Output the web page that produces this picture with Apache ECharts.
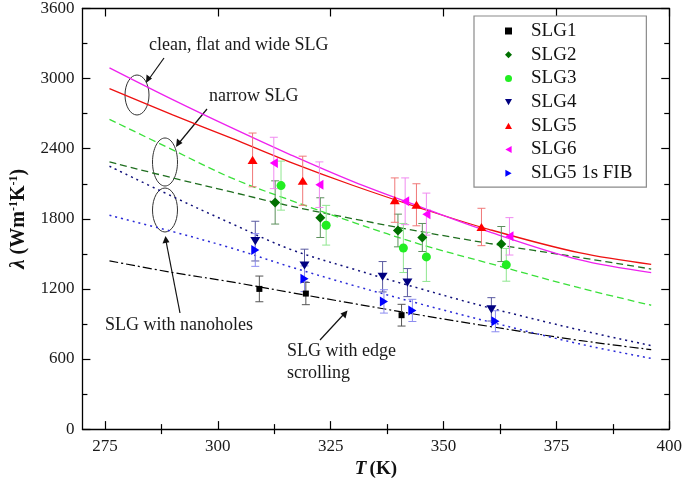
<!DOCTYPE html>
<html>
<head>
<meta charset="utf-8">
<script src="https://cdn.jsdelivr.net/npm/echarts@6/dist/echarts.min.js"></script>
<style>
html,body{margin:0;padding:0;background:#fff;}
#chart{width:685px;height:484px;}
</style>
</head>
<body>
<div id="chart"></div>
<script>
// ---- data ----
const xMajorTicks = [275, 300, 325, 350, 375, 400];
const xMinorTicks = [287.5, 312.5, 337.5, 362.5, 387.5];

const fitT = [276, 290, 303, 316, 330, 345, 360, 380, 396];
const fitSLG1 = [1440, 1340, 1260, 1170, 1075, 975, 880, 760, 680];
const fitSLG2 = [2287, 2150, 2030, 1910, 1800, 1690, 1590, 1470, 1370];
const fitSLG3 = [2651, 2390, 2150, 1960, 1770, 1580, 1420, 1210, 1060];
const fitSLG4 = [2250, 1990, 1760, 1540, 1370, 1200, 1040, 850, 715];
const fitSLG5 = [2914, 2690, 2490, 2285, 2085, 1890, 1710, 1510, 1410];
const fitSLG6 = [3092, 2820, 2580, 2350, 2118, 1900, 1690, 1450, 1340];
const fitFIB  = [1830, 1690, 1550, 1390, 1230, 1070, 920, 730, 605];

const slg1T = [309.2, 319.5, 340.7];
const slg1V = [1200, 1160, 975];
const slg1E = [110, 95, 93];

const slg2T = [312.7, 322.7, 339.9, 345.3, 362.8];
const slg2V = [1940, 1810, 1700, 1640, 1584];
const slg2E = [185, 170, 140, 120, 150];

const slg3T = [314.0, 324.0, 341.1, 346.2, 363.9];
const slg3V = [2084, 1745, 1550, 1474, 1406];
const slg3E = [210, 170, 210, 210, 140];

const slg4T = [308.3, 319.2, 336.5, 342.0, 360.6];
const slg4V = [1609, 1400, 1304, 1254, 1025];
const slg4E = [170, 140, 130, 120, 100];

const slg5T = [307.7, 318.8, 339.2, 344.0, 358.4];
const slg5V = [2304, 2126, 1960, 1920, 1730];
const slg5E = [230, 210, 190, 180, 160];

const slg6T = [312.4, 322.5, 341.5, 346.2, 364.6];
const slg6V = [2278, 2092, 1950, 1840, 1650];
const slg6E = [220, 195, 200, 180, 160];

const fibT = [308.3, 319.2, 336.8, 343.1, 361.5];
const fibV = [1533, 1287, 1093, 1016, 923];
const fibE = [140, 110, 100, 95, 90];

// ---- helpers ----
const FONT = '"Liberation Serif", "Times New Roman", serif';
const TRI_UP = 'path://M5,0L10,9L0,9Z';
const TRI_DOWN = 'path://M0,0L10,0L5,9Z';
const TRI_LEFT = 'path://M9,0L9,10L0,5Z';
const TRI_RIGHT = 'path://M0,0L0,10L9,5Z';
const pairs = (xs, ys) => xs.map((x, i) => [x, ys[i]]);
const errs = (xs, ys, es) => xs.map((x, i) => [x, ys[i] - es[i], ys[i] + es[i]]);

function errRender(color) {
  return function (params, api) {
    const x = api.value(0), lo = api.value(1), hi = api.value(2);
    const a = api.coord([x, hi]);
    const b = api.coord([x, lo]);
    const w = 4;
    const st = { stroke: color, lineWidth: 1 };
    return {
      type: 'group',
      children: [
        { type: 'line', shape: { x1: a[0], y1: a[1], x2: b[0], y2: b[1] }, style: st },
        { type: 'line', shape: { x1: a[0] - w, y1: a[1], x2: a[0] + w, y2: a[1] }, style: st },
        { type: 'line', shape: { x1: b[0] - w, y1: b[1], x2: b[0] + w, y2: b[1] }, style: st }
      ]
    };
  };
}

function fitSeries(name, ys, color, type, width) {
  return {
    name: name, type: 'line', data: pairs(fitT, ys), smooth: 0.35,
    showSymbol: false, symbol: 'none', silent: true, z: 1,
    lineStyle: { color: color, width: width || 1.2, type: type }
  };
}
function errSeries(name, xs, ys, es, color) {
  return {
    name: name, type: 'custom', data: errs(xs, ys, es), renderItem: errRender(color),
    silent: true, z: 2, encode: { x: 0, y: [1, 2] }
  };
}
function ptSeries(name, xs, ys, symbol, size, color) {
  return {
    name: name, type: 'scatter', data: pairs(xs, ys), symbol: symbol, symbolSize: size,
    symbolKeepAspect: true, itemStyle: { color: color, opacity: 1 }, z: 3
  };
}

const series = [
  fitSeries('SLG1 fit', fitSLG1, '#000000', [9, 3, 2, 3], 1.2),
  fitSeries('SLG2 fit', fitSLG2, '#1f6e1f', [7, 4], 1.3),
  fitSeries('SLG3 fit', fitSLG3, '#3ae03a', [7, 4], 1.3),
  fitSeries('SLG4 fit', fitSLG4, '#10107a', [2, 4], 1.5),
  fitSeries('SLG5 fit', fitSLG5, '#ee1111', 'solid', 1.3),
  fitSeries('SLG6 fit', fitSLG6, '#ee22ee', 'solid', 1.3),
  fitSeries('SLG5 1s FIB fit', fitFIB, '#2a2ad8', [2, 4], 1.5),

  errSeries('SLG1 err', slg1T, slg1V, slg1E, '#555555'),
  errSeries('SLG2 err', slg2T, slg2V, slg2E, '#5c8f5c'),
  errSeries('SLG3 err', slg3T, slg3V, slg3E, '#8fe68f'),
  errSeries('SLG4 err', slg4T, slg4V, slg4E, '#5a5aa0'),
  errSeries('SLG5 err', slg5T, slg5V, slg5E, '#f07878'),
  errSeries('SLG6 err', slg6T, slg6V, slg6E, '#f08af0'),
  errSeries('SLG5 1s FIB err', fibT, fibV, fibE, '#8c8cf0'),

  ptSeries('SLG1', slg1T, slg1V, 'rect', 6, '#000000'),
  ptSeries('SLG2', slg2T, slg2V, 'diamond', 10, '#007000'),
  ptSeries('SLG3', slg3T, slg3V, 'circle', 9, '#22ee22'),
  ptSeries('SLG4', slg4T, slg4V, TRI_DOWN, [10, 9], '#000080'),
  ptSeries('SLG5', slg5T, slg5V, TRI_UP, [10, 9], '#ff0000'),
  ptSeries('SLG6', slg6T, slg6V, TRI_LEFT, [9, 10], '#ff00ff'),
  ptSeries('SLG5 1s FIB', fibT, fibV, TRI_RIGHT, [9, 10], '#0000ff')
];

const axisLineStyle = { color: '#000', width: 1.3 };
const labelStyle = { fontFamily: FONT, fontSize: 17, color: '#1a1a1a' };
const plain = v => String(v);

function extraX(pos, ticks, len) {
  return {
    type: 'value', min: 270, max: 400, position: pos, gridIndex: 0,
    axisLine: { show: false }, splitLine: { show: false },
    axisLabel: { show: false },
    axisTick: { show: true, inside: true, length: len, customValues: ticks, lineStyle: { color: '#000', width: 1.2 } }
  };
}

const option = {
  animation: false,
  backgroundColor: '#fff',
  grid: { left: 78, right: 13, top: 7, bottom: 52, containLabel: false },
  xAxis: [
    {
      type: 'value', min: 270, max: 400, position: 'bottom',
      axisLine: { show: true, onZero: false, lineStyle: axisLineStyle },
      splitLine: { show: false },
      axisTick: { show: true, inside: true, length: 8, customValues: xMajorTicks, lineStyle: { color: '#000', width: 1.2 } },
      axisLabel: Object.assign({ margin: 9, customValues: xMajorTicks, formatter: plain }, labelStyle),
      name: '{i|T} {b|(K)}', nameLocation: 'middle', nameGap: 28,
      nameTextStyle: {
        rich: {
          i: { fontFamily: FONT, fontSize: 19, fontWeight: 'bold', fontStyle: 'italic', color: '#111' },
          b: { fontFamily: FONT, fontSize: 19, fontWeight: 'bold', color: '#111' }
        }
      }
    },
    extraX('bottom', xMinorTicks, 5),
    Object.assign(extraX('top', xMajorTicks, 8), { axisLine: { show: true, onZero: false, lineStyle: axisLineStyle } }),
    extraX('top', xMinorTicks, 5)
  ],
  yAxis: [
    {
      type: 'value', min: 0, max: 3600, interval: 600, position: 'left',
      axisLine: { show: true, onZero: false, lineStyle: axisLineStyle },
      splitLine: { show: false },
      axisTick: { show: true, inside: true, length: 8, lineStyle: { color: '#000', width: 1.2 } },
      minorTick: { show: true, splitNumber: 2, length: 5, lineStyle: { color: '#000', width: 1.2 } },
      axisLabel: Object.assign({ margin: 8, formatter: plain }, labelStyle),
      name: '{l|λ}{b| (Wm}{s|-1}{b|K}{s|-1}{b|)}', nameLocation: 'middle', nameGap: 52,
      nameRotate: 90,
      nameTextStyle: {
        rich: {
          l: { fontFamily: FONT, fontSize: 21, fontWeight: 'bold', fontStyle: 'italic', color: '#111', lineHeight: 22 },
          b: { fontFamily: FONT, fontSize: 20, fontWeight: 'bold', color: '#111', lineHeight: 22 },
          s: { fontFamily: FONT, fontSize: 12, fontWeight: 'bold', color: '#111', verticalAlign: 'top', lineHeight: 22 }
        }
      }
    },
    {
      type: 'value', min: 0, max: 3600, interval: 600, position: 'right',
      axisLine: { show: true, onZero: false, lineStyle: axisLineStyle },
      splitLine: { show: false },
      axisTick: { show: true, inside: true, length: 8, lineStyle: { color: '#000', width: 1.2 } },
      minorTick: { show: true, splitNumber: 2, length: 5, lineStyle: { color: '#000', width: 1.2 } },
      axisLabel: { show: false }
    }
  ],
  legend: {
    orient: 'vertical', left: 474, top: 16,
    padding: [5, 14, 4, 31],
    itemWidth: 7, itemHeight: 7, itemGap: 3.7,
    symbolKeepAspect: true,
    borderColor: '#8a8a8a', borderWidth: 1.2, backgroundColor: '#fff',
    textStyle: { fontFamily: FONT, fontSize: 19, color: '#111', lineHeight: 20, padding: [0, 0, 0, 14] },
    data: ['SLG1', 'SLG2', 'SLG3', 'SLG4', 'SLG5', 'SLG6', 'SLG5 1s FIB'],
    selectedMode: false
  },
  graphic: [
    { type: 'text', left: 149, top: 36, style: { text: 'clean, flat and wide SLG', font: '18px ' + FONT, fill: '#1a1a1a' } },
    { type: 'text', left: 209, top: 87, style: { text: 'narrow SLG', font: '18px ' + FONT, fill: '#1a1a1a' } },
    { type: 'text', left: 105, top: 316, style: { text: 'SLG with nanoholes', font: '18px ' + FONT, fill: '#1a1a1a' } },
    { type: 'text', left: 287, top: 342, style: { text: 'SLG with edge', font: '18px ' + FONT, fill: '#1a1a1a' } },
    { type: 'text', left: 287, top: 364, style: { text: 'scrolling', font: '18px ' + FONT, fill: '#1a1a1a' } },

    { type: 'ellipse', shape: { cx: 137, cy: 95, rx: 12, ry: 20 }, style: { fill: 'none', stroke: '#333', lineWidth: 1 } },
    { type: 'ellipse', shape: { cx: 165, cy: 162, rx: 12.5, ry: 24 }, style: { fill: 'none', stroke: '#333', lineWidth: 1 } },
    { type: 'ellipse', shape: { cx: 165, cy: 210, rx: 12.5, ry: 22 }, style: { fill: 'none', stroke: '#333', lineWidth: 1 } },

    { type: 'line', shape: { x1: 164, y1: 58, x2: 149, y2: 79 }, style: { stroke: '#111', lineWidth: 1.2 } },
    { type: 'polygon', shape: { points: [[146, 83], [146.5, 74.5], [152, 78.5]] }, style: { fill: '#111' } },
    { type: 'line', shape: { x1: 207, y1: 109, x2: 179, y2: 143 }, style: { stroke: '#111', lineWidth: 1.2 } },
    { type: 'polygon', shape: { points: [[176, 147], [177, 138.5], [182.5, 143]] }, style: { fill: '#111' } },
    { type: 'line', shape: { x1: 180, y1: 313, x2: 166, y2: 241 }, style: { stroke: '#111', lineWidth: 1.2 } },
    { type: 'polygon', shape: { points: [[165.5, 236], [162.5, 243.5], [169.5, 242.2]] }, style: { fill: '#111' } },
    { type: 'line', shape: { x1: 320, y1: 340, x2: 344, y2: 314 }, style: { stroke: '#111', lineWidth: 1.2 } },
    { type: 'polygon', shape: { points: [[347.5, 310.5], [345.5, 318.5], [340.5, 313.5]] }, style: { fill: '#111' } }
  ],
  series: series
};

const chart = echarts.init(document.getElementById('chart'), null, { renderer: 'canvas' });
chart.setOption(option);
</script>
</body>
</html>
